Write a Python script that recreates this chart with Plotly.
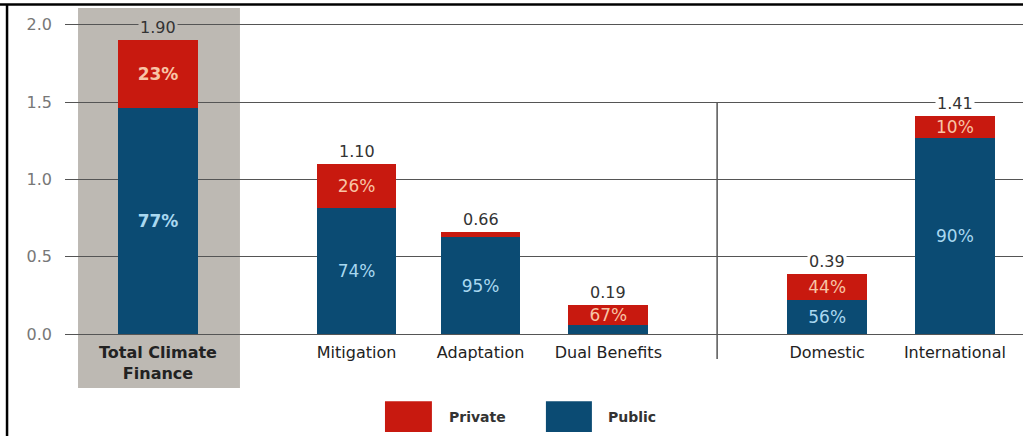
import plotly.graph_objects as go

# ---- data ----
categories = ["Total Climate<br>Finance", "Mitigation", "Adaptation", "Dual Benefits", "Domestic", "International"]
totals = [1.90, 1.10, 0.66, 0.19, 0.39, 1.41]
private_share = [23, 26, 5, 67, 44, 10]          # percent
private_labels = ["23%", "26%", "", "67%", "44%", "10%"]
public_labels = ["77%", "74%", "95%", "", "56%", "90%"]
total_labels = ["1.90", "1.10", "0.66", "0.19", "0.39", "1.41"]
series_names = ["Private", "Public"]

public_vals = [t * (100 - p) / 100 for t, p in zip(totals, private_share)]
private_vals = [t * p / 100 for t, p in zip(totals, private_share)]

# ---- layout helpers ----
slots = [0, 1.57, 2.55, 3.56, 5.29, 6.30]
RED = "#C8190F"
BLUE = "#0B4B73"
GRAY = "#BDB9B3"
FONT = "DejaVu Sans"

def emph(s, i):
    return f"<b>{s}</b>" if (i == 0 and s) else s

fig = go.Figure()
fig.add_trace(go.Bar(
    x=slots, y=public_vals, name=series_names[1], marker_color=BLUE, width=0.63,
    text=[emph(s, i) for i, s in enumerate(public_labels)],
    textposition="inside", insidetextanchor="middle", textangle=0,
    textfont=dict(family=FONT, size=17, color="#A9D8F0"),
    hoverinfo="skip", marker_line_width=0,
))
fig.add_trace(go.Bar(
    x=slots, y=private_vals, name=series_names[0], marker_color=RED, width=0.63,
    text=[emph(s, i) for i, s in enumerate(private_labels)],
    textposition="inside", insidetextanchor="middle", textangle=0,
    textfont=dict(family=FONT, size=17, color="#F8C4A6"),
    hoverinfo="skip", marker_line_width=0,
))

ticktext = [("<b>" + c + "</b>") if i == 0 else c for i, c in enumerate(categories)]

fig.update_layout(
    width=1023, height=436,
    margin=dict(l=65, r=0, t=17, b=94),
    barmode="stack",
    showlegend=False,
    uniformtext=dict(minsize=17, mode="show"),
    plot_bgcolor="white", paper_bgcolor="white",
    font=dict(family=FONT, color="#333333"),
    xaxis=dict(range=[-0.735, 6.838], tickvals=slots, ticktext=ticktext,
               showgrid=False, zeroline=False, showline=False, ticks="",
               tickfont=dict(family=FONT, size=16, color="#222222"),
               ticklabelstandoff=-1),
    yaxis=dict(range=[-0.05, 2.05], tickvals=[0, 0.5, 1.0, 1.5, 2.0], tickformat=".1f",
               showgrid=True, gridcolor="#555555", gridwidth=1, zeroline=False,
               showline=False, ticks="", ticklabelstandoff=12,
               tickfont=dict(family=FONT, size=16, color="#777777")),
)

# gray highlight behind total bar
fig.add_shape(type="rect", xref="x", yref="paper", x0=-0.632, x1=0.648, y0=-0.1415, y1=1.0277,
              fillcolor=GRAY, line_width=0, layer="between")
# separator line
fig.add_shape(type="line", xref="x", yref="paper", x0=4.42, x1=4.42, y0=-0.0523, y1=0.7385,
              line=dict(color="#555555", width=1.5), layer="between")
# frame lines
fig.add_shape(type="line", xref="paper", yref="paper", x0=-0.075, x1=1.0, y0=1.0385, y1=1.0385,
              line=dict(color="black", width=2.5))
fig.add_shape(type="line", xref="paper", yref="paper", x0=-0.0605, x1=-0.0605, y0=1.0385, y1=-0.3,
              line=dict(color="black", width=2.5))

# total labels
for i, (xs, t, lab) in enumerate(zip(slots, totals, total_labels)):
    fig.add_annotation(x=xs, y=t, text=lab, showarrow=False, yanchor="bottom", yshift=1,
                       font=dict(family=FONT, size=16, color="#333333"),
                       bgcolor=GRAY if i == 0 else "white", borderpad=1)

# custom legend
legend_items = [(series_names[0], RED, 0.334, 0.383, 0.399), (series_names[1], BLUE, 0.502, 0.550, 0.565)]
for name, col, x0, x1, xt in legend_items:
    fig.add_shape(type="rect", xref="paper", yref="paper", x0=x0, x1=x1, y0=-0.277, y1=-0.182,
                  fillcolor=col, line_width=0)
    fig.add_annotation(xref="paper", yref="paper", x=xt, y=-0.231, xanchor="left", yanchor="middle",
                       text=f"<b>{name}</b>", showarrow=False,
                       font=dict(family=FONT, size=14, color="#333333"))

fig.write_html("out.html", config={"displayModeBar": False},
               post_script="document.body.style.margin='0';document.body.style.overflow='hidden';")
